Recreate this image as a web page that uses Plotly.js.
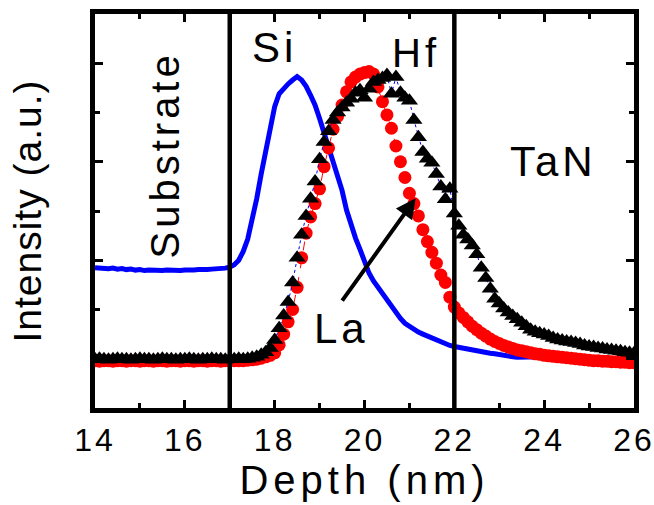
<!DOCTYPE html>
<html>
<head>
<meta charset="utf-8">
<script src="https://cdn.plot.ly/plotly-3.0.1.min.js"></script>
<style>
  html, body { margin: 0; padding: 0; background: #fff; }
  #chart { width: 654px; height: 505px; }
  .xtitle { letter-spacing: 5px; }
  .ytitle { letter-spacing: 1px; }
  .xtick text { letter-spacing: 3px; }
  .annotation-text { letter-spacing: 4px; }
</style>
</head>
<body>
<div id="chart"></div>
<script>
// Depth grid (nm)
const depth = [
  14.0,14.1,14.2,14.3,14.4,14.5,14.6,14.7,14.8,14.9,
  15.0,15.1,15.2,15.3,15.4,15.5,15.6,15.7,15.8,15.9,
  16.0,16.1,16.2,16.3,16.4,16.5,16.6,16.7,16.8,16.9,
  17.0,17.1,17.2,17.3,17.4,17.5,17.6,17.7,17.8,17.9,
  18.0,18.1,18.2,18.3,18.4,18.5,18.6,18.7,18.8,18.9,
  19.0,19.1,19.2,19.3,19.4,19.5,19.6,19.7,19.8,19.9,
  20.0,20.1,20.2,20.3,20.4,20.5,20.6,20.7,20.8,20.9,
  21.0,21.1,21.2,21.3,21.4,21.5,21.6,21.7,21.8,21.9,
  22.0,22.1,22.2,22.3,22.4,22.5,22.6,22.7,22.8,22.9,
  23.0,23.1,23.2,23.3,23.4,23.5,23.6,23.7,23.8,23.9,
  24.0,24.1,24.2,24.3,24.4,24.5,24.6,24.7,24.8,24.9,
  25.0,25.1,25.2,25.3,25.4,25.5,25.6,25.7,25.8,25.9,
  26.0
];

// Si intensity (blue line)
const siIntensity = [
  2.85,2.84,2.85,2.83,2.84,2.82,2.83,2.81,2.82,2.80,
  2.81,2.79,2.80,2.79,2.78,2.79,2.80,2.79,2.78,2.79,
  2.80,2.79,2.80,2.81,2.80,2.81,2.82,2.82,2.83,2.84,
  2.86,2.91,3.00,3.18,3.43,3.82,4.25,4.75,5.25,5.70,
  6.12,6.38,6.50,6.58,6.66,6.73,6.66,6.53,6.35,6.15,
  5.88,5.58,5.28,4.98,4.71,4.42,4.02,3.70,3.45,3.22,
  2.98,2.74,2.58,2.45,2.32,2.21,2.08,1.95,1.82,1.72,
  1.65,1.59,1.54,1.50,1.46,1.42,1.38,1.34,1.30,1.27,
  1.25,1.23,1.21,1.19,1.17,1.15,1.14,1.12,1.11,1.10,
  1.08,1.07,1.05,1.04,1.03,1.03,1.02,1.02,1.03,1.04,
  1.06,1.07,1.06,1.04,1.03,1.02,1.02,1.01,1.01,1.00,
  1.00,1.00,0.99,0.99,0.99,0.98,0.98,0.98,0.97,0.97,
  0.97
];

// La intensity (red circles)
const laIntensity = [
  0.96,0.95,0.96,0.96,0.95,0.96,0.96,0.95,0.96,0.96,
  0.95,0.96,0.96,0.95,0.96,0.96,0.95,0.96,0.96,0.95,
  0.96,0.96,0.95,0.96,0.96,0.95,0.96,0.96,0.95,0.96,
  0.96,0.96,0.96,0.96,0.97,0.98,0.99,1.01,1.04,1.07,
  1.12,1.28,1.50,1.75,2.00,2.45,3.05,3.55,3.88,4.15,
  4.45,4.90,5.28,5.66,5.92,6.15,6.42,6.62,6.72,6.78,
  6.81,6.83,6.78,6.52,6.22,5.95,5.68,5.32,5.00,4.68,
  4.36,4.15,3.90,3.62,3.38,3.16,2.94,2.70,2.55,2.25,
  2.05,1.93,1.84,1.75,1.66,1.59,1.52,1.46,1.40,1.35,
  1.31,1.27,1.24,1.21,1.18,1.16,1.14,1.12,1.10,1.09,
  1.07,1.06,1.05,1.04,1.03,1.02,1.01,1.00,0.99,0.98,
  0.97,0.96,0.96,0.95,0.95,0.94,0.94,0.93,0.93,0.92,
  0.92
];

// Hf intensity (black triangles)
const hfIntensity = [
  0.99,1.00,0.99,0.98,0.99,1.00,0.99,0.99,0.98,0.99,
  1.00,0.99,0.99,0.98,0.99,1.00,0.99,0.99,0.98,0.99,
  0.99,1.00,0.99,0.98,0.99,0.99,1.00,0.99,0.99,0.98,
  0.99,0.99,1.00,0.99,1.00,1.02,1.04,1.08,1.13,1.22,
  1.38,1.62,1.88,2.15,2.55,3.05,3.52,3.90,4.25,4.60,
  5.05,5.40,5.62,5.85,6.00,6.10,6.20,6.28,6.40,6.45,
  6.30,6.48,6.62,6.66,6.70,6.76,6.38,6.72,6.40,6.30,
  6.24,5.85,5.50,5.20,5.06,4.98,4.75,4.50,4.24,4.45,
  3.95,3.70,3.52,3.42,3.30,3.12,2.85,2.64,2.42,2.22,
  2.12,2.02,1.94,1.87,1.80,1.73,1.66,1.59,1.55,1.52,
  1.49,1.46,1.42,1.39,1.37,1.35,1.34,1.32,1.30,1.27,
  1.25,1.24,1.22,1.21,1.19,1.18,1.16,1.15,1.13,1.12,
  1.11
];

// Layer boundaries (nm)
const boundaries = [17, 22];

const FONT = '"Liberation Sans", Arial, Helvetica, sans-serif';

const traces = [
  {
    x: depth, y: siIntensity, type: 'scatter', mode: 'lines', name: 'Si',
    line: { color: '#0000ff', width: 5 }
  },
  {
    x: depth, y: laIntensity, type: 'scatter', mode: 'lines+markers', name: 'La',
    line: { color: '#ff0000', width: 1, dash: 'dash' },
    marker: { symbol: 'circle', size: 13, color: '#ff0000' }
  },
  {
    x: depth, y: hfIntensity, type: 'scatter', mode: 'lines+markers', name: 'Hf',
    line: { color: '#0000ff', width: 1, dash: 'dot' },
    marker: { symbol: 'triangle-up', size: 15, color: '#000000' }
  }
];

const shapes = boundaries.map(b => ({
  type: 'line', xref: 'x', yref: 'paper', x0: b, x1: b, y0: 0, y1: 1,
  line: { color: '#000', width: 4.5 }
}));

const annotations = [
  { text: 'Si', x: 17.99, y: 7.31, xref: 'x', yref: 'y', showarrow: false, font: { family: FONT, size: 42, color: '#000' } },
  { text: 'Hf', x: 21.14, y: 7.21, xref: 'x', yref: 'y', showarrow: false, font: { family: FONT, size: 40, color: '#000' } },
  { text: 'TaN', x: 24.2, y: 5.0, xref: 'x', yref: 'y', showarrow: false, font: { family: FONT, size: 42, color: '#000' } },
  { text: 'La', x: 19.48, y: 1.62, xref: 'x', yref: 'y', showarrow: false, font: { family: FONT, size: 42, color: '#000' } },
  { text: 'Substrate', x: 15.55, y: 5.14, xref: 'x', yref: 'y', showarrow: false, textangle: -90, font: { family: FONT, size: 40, color: '#000' } },
  { text: '', x: 21.14, y: 4.26, ax: 19.48, ay: 2.15, xref: 'x', yref: 'y', axref: 'x', ayref: 'y',
    showarrow: true, arrowhead: 2, arrowsize: 1, arrowwidth: 4, arrowcolor: '#000' }
];

const axisCommon = {
  showline: true, linewidth: 5, linecolor: '#000', mirror: 'allticks',
  ticks: 'inside', ticklen: 8, tickwidth: 3, tickcolor: '#000',
  showgrid: false, zeroline: false, automargin: false
};

const layout = {
  width: 654, height: 505,
  margin: { l: 95, r: 20, t: 14, b: 97 },
  paper_bgcolor: '#fff', plot_bgcolor: '#fff',
  showlegend: false,
  font: { family: FONT, color: '#000' },
  xaxis: Object.assign({}, axisCommon, {
    range: [14, 26], tick0: 14, dtick: 2, ticklabeloverflow: 'allow',
    minor: { dtick: 1, ticks: 'inside', ticklen: 5, tickwidth: 3, tickcolor: '#000', showgrid: false },
    tickfont: { family: FONT, size: 32, color: '#000' },
    title: { text: 'Depth (nm)', font: { family: FONT, size: 40, color: '#000' }, standoff: 4 }
  }),
  yaxis: Object.assign({}, axisCommon, {
    range: [0, 8], tick0: 1, dtick: 2, showticklabels: false,
    minor: { dtick: 1, ticks: 'inside', ticklen: 5, tickwidth: 3, tickcolor: '#000', showgrid: false },
    title: { text: 'Intensity (a.u.)', font: { family: FONT, size: 39, color: '#000' }, standoff: 38 }
  }),
  shapes: shapes,
  annotations: annotations
};

Plotly.newPlot('chart', traces, layout, { displayModeBar: false, staticPlot: true });
</script>
</body>
</html>
